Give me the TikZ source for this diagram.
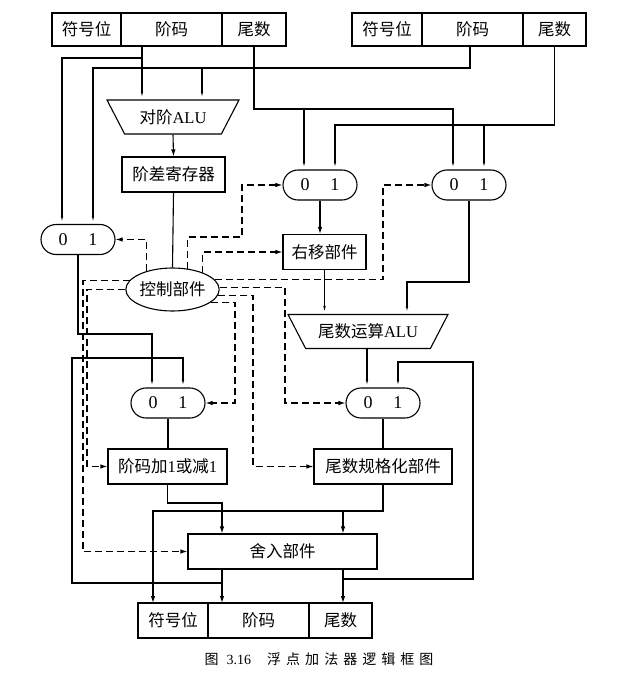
\documentclass[tikz,border=0pt]{standalone}
\usepackage{fontspec}
\setmainfont{Liberation Serif}
\newfontfamily\cjk{Noto Sans CJK SC}
\newfontfamily\cjkcap[LetterSpace=36]{Noto Sans CJK SC}
\usetikzlibrary{positioning,shapes.geometric,arrows.meta}
\newcommand\lbl{\fontsize{16.5}{19}\selectfont}

\tikzset{
  reg/.style={draw, minimum height=33pt, inner sep=0pt, outer sep=0pt, font=\cjk\lbl},
  box/.style={draw, minimum height=35pt, inner sep=0pt, font=\cjk\lbl},
  mux/.style={draw, rounded corners=15pt, minimum width=74pt, minimum height=30pt, inner sep=0pt,
    font=\fontsize{18}{20}\selectfont},
  alu/.style={draw, trapezium, shape border rotate=180, trapezium angle=41,
    trapezium stretches body, minimum height=34pt, inner sep=0pt, font=\cjk\lbl},
  arr/.style={-{Latex[length=7pt,width=4.5pt]}},
  pin/.style={-{Latex[length=8pt,width=2.4pt]}},
  ctl/.style={dash pattern=on 7pt off 4pt, -{Latex[length=7pt,width=4.5pt]}},
}

\begin{document}
\begin{tikzpicture}[x=1pt, y=-1pt, line width=1.1pt]
  \useasboundingbox (0,0) rectangle (626,676);

  % Les registres
  \node[reg, minimum width=69pt] (sA) at (86.5,29.5) {符号位};
  \node[reg, minimum width=101pt, right=0pt of sA] (eA) {阶码};
  \node[reg, minimum width=64pt, right=0pt of eA] (mA) {尾数};
  \node[reg, minimum width=70pt] (sB) at (387,29.5) {符号位};
  \node[reg, minimum width=101pt, right=0pt of sB] (eB) {阶码};
  \node[reg, minimum width=63pt, right=0pt of eB] (mB) {尾数};
  \node[reg, minimum width=70pt, minimum height=35pt] (sC) at (173,620.5) {符号位};
  \node[reg, minimum width=101pt, minimum height=35pt, right=0pt of sC] (eC) {阶码};
  \node[reg, minimum width=63pt, minimum height=35pt, right=0pt of eC] (mC) {尾数};

  % Les ALU
  \node[alu, minimum width=132pt] (alu1) at (173,117) {对阶{\rmfamily ALU}};
  \node[alu, minimum width=160pt] (alu2) at (368,331.5) {尾数运算{\rmfamily ALU}};

  % Les boites
  \node[box, minimum width=103pt] (diff) at (173.5,174.5) {阶差寄存器};
  \node[box, minimum width=83pt] (shift) at (324.5,252) {右移部件};
  \node[box, minimum width=119pt] (inc) at (167.5,466.5) {阶码加{\rmfamily 1}或减{\rmfamily 1}};
  \node[box, minimum width=138pt] (norm) at (383,466.5) {尾数规格化部件};
  \node[box, minimum width=189pt] (round) at (282.5,551.5) {舍入部件};
  \node[draw, ellipse, minimum width=91pt, minimum height=43pt, inner sep=0pt,
    font=\cjk\lbl] (ctrl) at (172.5,289.5) {控制部件};

  % Les multiplexeurs
  \foreach \m/\x/\y in {muxL/78/239.5, muxM/320/185, muxR/469/185, muxLL/168/403, muxLR/383/403} {
    \node[mux] (\m) at (\x,\y) {0\hspace{21pt}1};
    \coordinate (\m-0) at ([xshift=-16pt]\m.north);
    \coordinate (\m-1) at ([xshift=15pt]\m.north);
  }

  % Les fils
  \draw[pin] (eA.south -| 142,0) -- (alu1.north -| 142,0);
  \draw[pin] (142,58) -| (muxL-0);
  \draw[pin] (eB.south -| 470,0) -- (470,68) -| (muxL-1);
  \draw[pin] (202,68) -- (alu1.north -| 202,0);
  \draw[pin] (mA.south) |- (muxR-0 |- 0,109) -- (muxR-0);
  \draw[pin] (muxM-0 |- 0,109) -- (muxM-0);
  \draw[pin] (mB.south) |- (muxM-1 |- 0,125) -- (muxM-1);
  \draw[pin] (muxR-1 |- 0,125) -- (muxR-1);
  \draw[arr] (alu1.south) -- (diff.north);
  \draw (diff.south) -- (ctrl.north);
  \draw[arr] (muxM.south) -- (shift.north -| muxM.south);
  \draw[pin] (shift.south) -- (alu2.north -| shift.south);
  \draw[pin] (muxR.south) |- (407,282) -- (alu2.north -| 407,0);
  \draw[pin] (alu2.south -| muxLR-0) -- (muxLR-0);
  \draw[pin] (muxL.south) |- (muxLL-0 |- 0,334) -- (muxLL-0);
  \draw (muxLL.south) -- (inc.north -| muxLL.south);
  \draw (muxLR.south) -- (norm.north);
  \draw[arr] (inc.south) -- (inc.south |- 0,503) -| (round.north -| 222,0);
  \draw[arr] (norm.south) -- (norm.south |- 0,511) -| (sC.north -| 153,0);
  \draw[arr] (343,511) -- (round.north -| 343,0);
  \draw[arr] (round.south -| 222,0) -- (eC.north -| 222,0);
  \draw[arr] (round.south -| 343,0) -- (mC.north -| 343,0);
  \draw[pin] (222,583) -| (72,358) -| (muxLL-1);
  \draw[pin] (343,579) -| (473,362) -| (muxLR-1);

  % Les signaux de commande
  \draw[ctl] (ctrl.145) |- (muxL.east);
  \draw[ctl] (ctrl.55) |- (242,237) |- (muxM.west);
  \draw[ctl] (ctrl.29) |- (shift.west);
  \draw[ctl] (ctrl.13) -| (muxR.west -| 383,0) -- (muxR.west);
  \draw[ctl] (ctrl.2) -| (muxLR.west -| 285,0) -- (muxLR.west);
  \draw[ctl] (ctrl.-7) -| (norm.west -| 253,0) -- (norm.west);
  \draw[ctl] (ctrl.-19) -| (muxLL.east -| 235,0) -- (muxLL.east);
  \draw[ctl] (ctrl.168) -| (round.west -| 83,0) -- (round.west);
  \draw[ctl] (ctrl.180) -| (inc.west -| 87,0) -- (inc.west);

  % La legende
  \node[font=\cjkcap\fontsize{14}{16}\selectfont] (cap) at (319,659)
    {图 {\rmfamily 3.16}\hspace{16pt}浮点加法器逻辑框图};
\end{tikzpicture}
\end{document}
